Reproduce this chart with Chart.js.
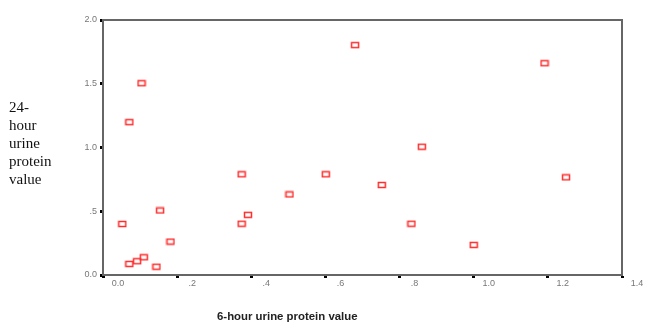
<!DOCTYPE html>
<html>
<head>
<meta charset="utf-8">
<script src="https://cdn.jsdelivr.net/npm/chart.js@4"></script>
<style>
    body { margin: 0; background: #fff; }
    #wrap { position: relative; width: 670px; height: 330px; }
    #yTitle {
        position: absolute; left: 9px; top: 98px;
        font-family: "Liberation Serif", serif; font-size: 15px; line-height: 18px; color: #111;
    }
    #xTitle {
        position: absolute; left: 217px; top: 310px;
        font-family: "Liberation Sans", Arial, sans-serif; font-size: 11.4px; font-weight: bold; color: #222;
    }
</style>
</head>
<body>
<div id="wrap">
    <canvas id="scatter" width="670" height="330"></canvas>
    <div id="yTitle">24-<br>hour<br>urine<br>protein<br>value</div>
    <div id="xTitle">6-hour urine protein value</div>
</div>
<script>
// valores
const sixHour = [0.052, 0.071, 0.092, 0.110, 0.144, 0.154, 0.182, 0.374, 0.374, 0.391, 0.104,
    0.071, 0.680, 1.191, 0.860, 0.601, 1.249, 0.752, 0.503, 0.832, 1.000];
const twentyFourHour = [0.40, 0.087, 0.108, 0.139, 0.065, 0.506, 0.262, 0.790, 0.402, 0.472, 1.504,
    1.199, 1.803, 1.661, 1.006, 0.790, 0.766, 0.706, 0.632, 0.402, 0.236];

// labels dos eixos
const xTickLabels = ['0.0', '.2', '.4', '.6', '.8', '1.0', '1.2', '1.4'];
const yTickLabels = ['0.0', '.5', '1.0', '1.5', '2.0'];

// marcador: retangulo vazio vermelho
function makeMarker() {
    const c = document.createElement('canvas');
    c.width = 10;
    c.height = 8;
    const ctx = c.getContext('2d');
    ctx.strokeStyle = 'rgb(255, 45, 45)';
    ctx.lineWidth = 1.5;
    ctx.strokeRect(1.5, 1.5, 7, 5);
    return c;
}

// caixa a volta da area do grafico (topo e direita)
const frameBox = {
    id: 'frameBox',
    afterDraw(chart) {
        const a = chart.chartArea;
        const ctx = chart.ctx;
        ctx.save();
        ctx.strokeStyle = '#666';
        ctx.lineWidth = 2;
        ctx.beginPath();
        ctx.moveTo(a.left, a.top);
        ctx.lineTo(a.right, a.top);
        ctx.lineTo(a.right, a.bottom);
        ctx.stroke();
        ctx.restore();
    }
};

const points = sixHour.map((x, i) => ({ x: x, y: twentyFourHour[i] }));
const tickFont = { family: 'Liberation Sans, Arial, sans-serif', size: 9 };

new Chart(document.getElementById('scatter'), {
    type: 'scatter',
    data: {
        datasets: [{
            data: points,
            pointStyle: makeMarker(),
            pointRadius: 4,
            pointHoverRadius: 4
        }]
    },
    plugins: [frameBox],
    options: {
        responsive: false,
        animation: false,
        devicePixelRatio: 1,
        layout: { padding: { top: 20, right: 48, left: 0, bottom: 0 } },
        plugins: { legend: { display: false }, tooltip: { enabled: false } },
        scales: {
            x: {
                type: 'linear',
                min: 0,
                max: 1.4,
                afterFit: (scale) => { scale.height = 55; },
                afterBuildTicks: (scale) => {
                    scale.ticks = xTickLabels.map((t, i) => ({ value: i * 0.2 }));
                },
                ticks: {
                    color: '#777',
                    font: tickFont,
                    padding: 0,
                    labelOffset: 15,
                    maxRotation: 0,
                    callback: (v, i) => xTickLabels[i]
                },
                grid: { drawOnChartArea: false, tickLength: 3, tickWidth: 3, tickColor: '#000' },
                border: { color: '#666', width: 2 }
            },
            y: {
                type: 'linear',
                min: 0,
                max: 2,
                afterFit: (scale) => { scale.width = 103; },
                afterBuildTicks: (scale) => {
                    scale.ticks = yTickLabels.map((t, i) => ({ value: i * 0.5 }));
                },
                ticks: {
                    color: '#777',
                    font: tickFont,
                    padding: 3,
                    callback: (v, i) => yTickLabels[i]
                },
                grid: { drawOnChartArea: false, tickLength: 3, tickWidth: 3, tickColor: '#000' },
                border: { color: '#666', width: 2 }
            }
        }
    }
});
</script>
</body>
</html>
